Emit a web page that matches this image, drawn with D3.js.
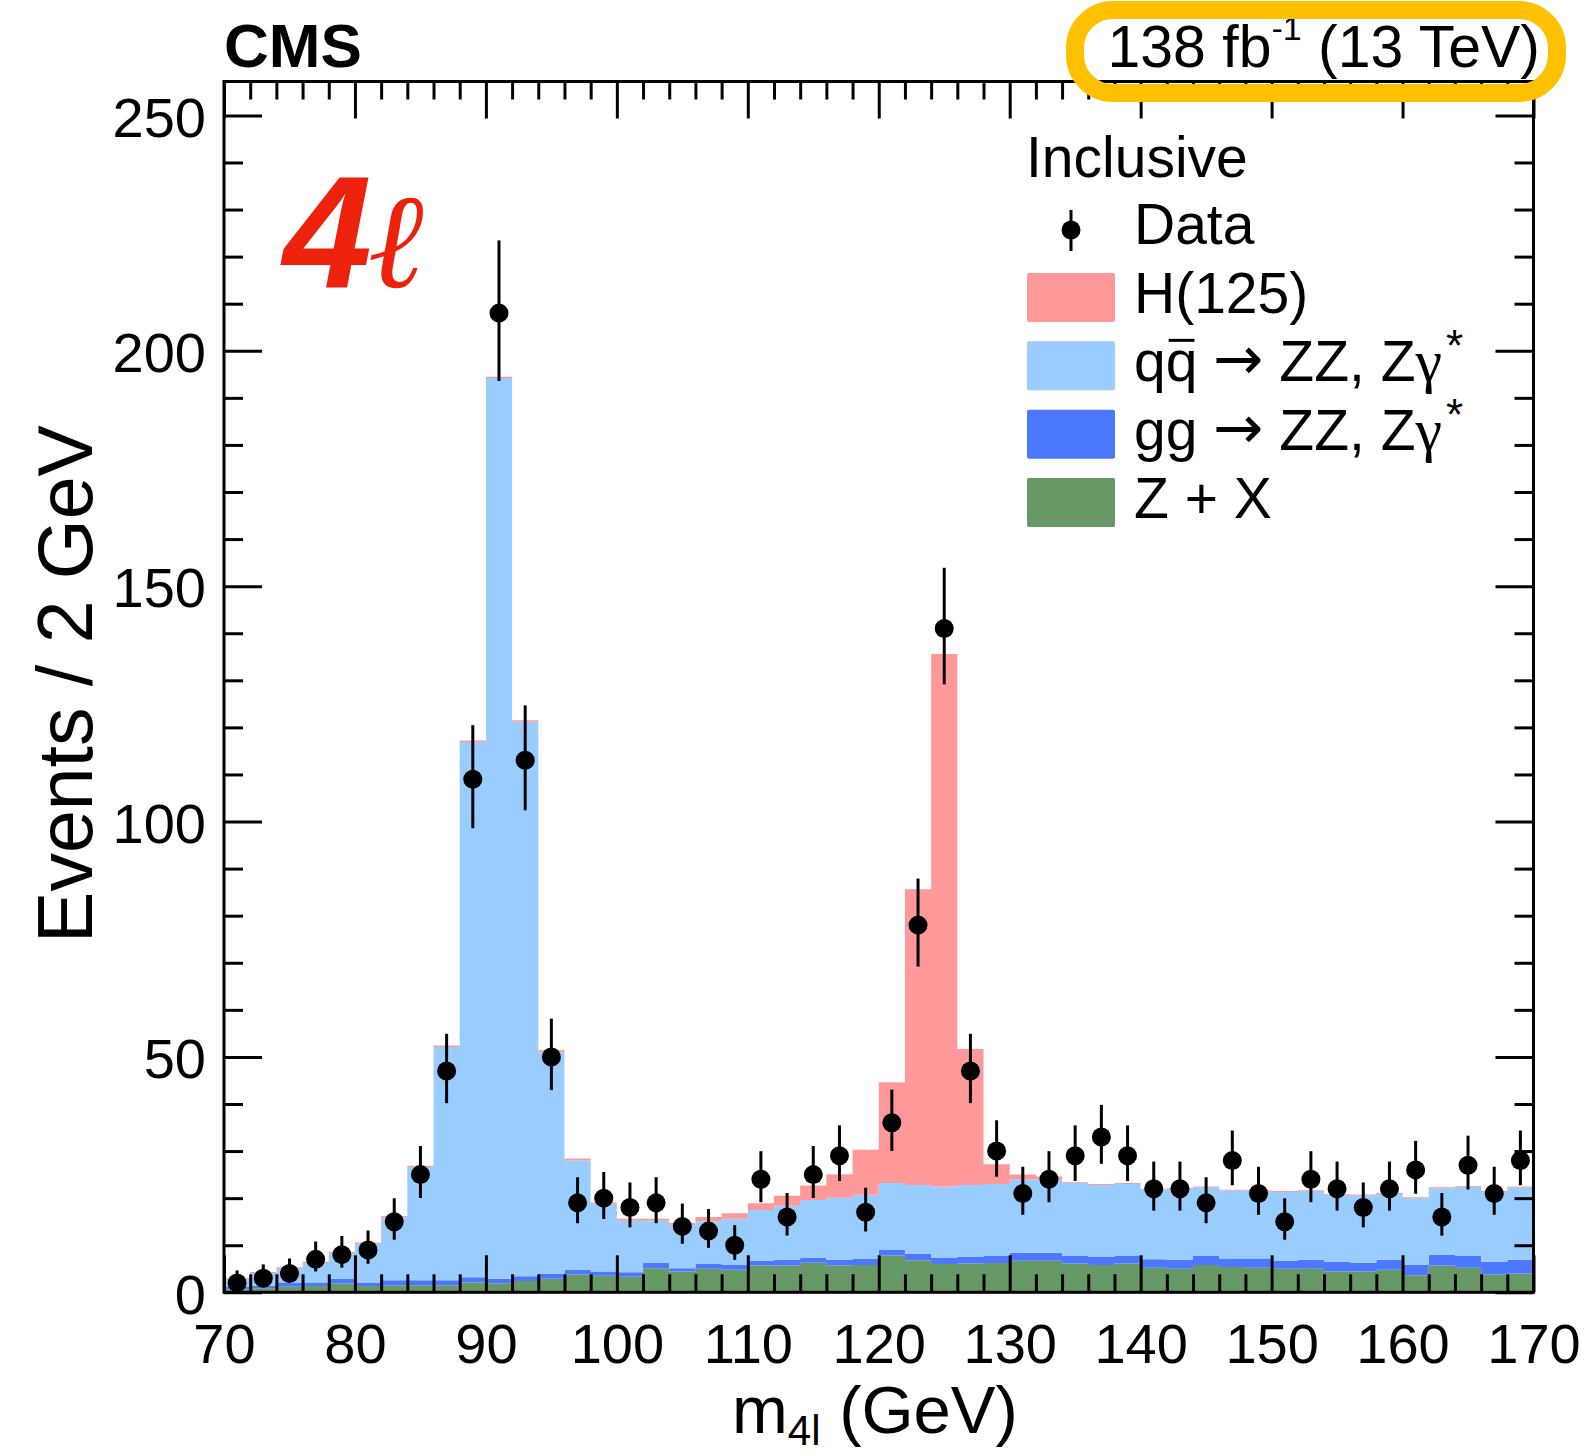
<!DOCTYPE html>
<html>
<head>
<meta charset="UTF-8">
<script src="https://d3js.org/d3.v7.min.js"></script>
<style>
  body { margin: 0; background: #fff; }
  text { font-family: "Liberation Sans", Arial, Helvetica, sans-serif; fill: #000; }
</style>
</head>
<body>
<div id="chart"></div>
<script>
// low edge of each 2 GeV bin in m4l
const massLow = [70,72,74,76,78,80,82,84,86,88,90,92,94,96,98,100,102,104,106,108,
                 110,112,114,116,118,120,122,124,126,128,130,132,134,136,138,140,142,144,146,148,
                 150,152,154,156,158,160,162,164,166,168];
const binWidth = 2;

// observed events per bin
const dataCounts = [2,3,4,7,8,9,15,25,47,109,208,113,50,19,20,18,19,14,13,10,
                    24,16,25,29,17,36,78,141,47,30,21,24,29,33,29,22,22,19,28,21,
                    15,24,22,18,22,26,16,27,21,28];

// expected events per bin, by process (stacked bottom to top)
const zPlusX = [0.6,0.85,1.2,1.35,1.85,1.35,1.5,1.5,1.5,2.1,1.9,2.4,2.9,3.8,3.5,3.3,5.1,4.4,5.0,4.8,
                5.7,5.7,6.3,5.7,5.8,7.8,6.8,6.0,6.1,6.2,6.7,6.7,6.1,5.8,6.1,5.2,5.0,5.8,5.4,5.2,
                5.0,5.0,4.4,4.4,4.8,3.6,5.7,5.2,3.8,4.0];
const ggZZ = [0.5,0.55,0.9,0.75,0.95,0.75,1.05,1.05,1.05,1.1,1.0,1.0,1.0,0.95,0.9,0.95,1.1,0.7,1.0,1.0,
              1.0,1.2,1.0,1.2,1.3,1.2,1.4,1.3,1.4,1.5,1.7,1.7,1.6,1.7,1.6,1.8,1.9,1.9,1.8,2.0,
              1.7,1.9,2.1,1.9,2.1,2.2,2.2,2.5,2.7,2.9];
const qqZZ = [1.7,2.7,2.9,4.1,5.5,8.2,13.35,24.05,49.55,113.7,191.3,117.8,47.1,23.25,14.4,10.95,9.0,9.1,9.1,9.8,
              10.8,11.5,12.3,13.2,13.6,14.2,14.6,15.2,15.3,15.3,15.6,15.6,15.5,15.3,15.3,14.8,15.1,14.6,14.4,14.4,
              14.6,14.6,14.2,14.3,14.0,14.2,14.2,14.7,14.8,15.4];
const higgs = [0.2,0.2,0.3,0.3,0.3,0.3,0.3,0.3,0.3,0.3,0.3,0.3,0.4,0.4,0.3,0.4,0.4,0.5,0.9,1.2,
               1.4,2.1,3.1,5.0,9.6,21.4,62.8,113.1,28.9,4.2,1.0,0.6,0.2,0.2,0.2,0.2,0.2,0.2,0.2,0.2,
               0.2,0.2,0.2,0.2,0.2,0.2,0.2,0.2,0.2,0.2];

const xTickLabels = [70,80,90,100,110,120,130,140,150,160,170];
const yTickLabels = [0,50,100,150,200,250];

const processes = [
  {key: "zx", label: "Z + X", color: "#669966"},
  {key: "gg", label: "gg", color: "#4b78ff"},
  {key: "qq", label: "qq", color: "#99ccff"},
  {key: "h",  label: "H(125)", color: "#ff9999"}
];

const W = 1588, H = 1456;
const pLeft = 224, pRight = 1533.5, pTop = 81.5, pBottom = 1292.3;

const x = d3.scaleLinear().domain([70, 170]).range([pLeft, pRight]);
const y = d3.scaleLinear().domain([0, 257.2]).range([pBottom, pTop]);

const table = massLow.map((lo, i) => ({lo, zx: zPlusX[i], gg: ggZZ[i], qq: qqZZ[i], h: higgs[i]}));
const series = d3.stack().keys(processes.map(p => p.key))(table);

const svg = d3.select("#chart").append("svg")
  .attr("width", W).attr("height", H)
  .style("background", "#fff");

svg.append("defs").append("clipPath").attr("id", "plotclip")
  .append("rect").attr("x", pLeft).attr("y", pTop).attr("width", pRight - pLeft).attr("height", pBottom - pTop);

// stacked histograms as step areas
const area = d3.area()
  .curve(d3.curveStepAfter)
  .x(d => x(d.x))
  .y0(d => y(d.y0))
  .y1(d => y(d.y1));

const colorOf = k => processes.find(p => p.key === k).color;

svg.append("g").attr("clip-path", "url(#plotclip)")
  .selectAll("path")
  .data(series)
  .join("path")
  .attr("fill", s => colorOf(s.key))
  .attr("d", s => {
    const pts = s.map((d, i) => ({x: massLow[i], y0: d[0], y1: d[1]}));
    const last = pts[pts.length - 1];
    pts.push({x: last.x + binWidth, y0: last.y0, y1: last.y1});
    return area(pts);
  });

// data points with Poisson (Gehrels) intervals
function errUp(n) { return Math.sqrt(n + 0.75) + 1; }
function errLow(n) { return n - n * Math.pow(1 - 1 / (9 * n) - 1 / (3 * Math.sqrt(n)), 3); }

const pts = svg.append("g");
pts.selectAll("line")
  .data(dataCounts)
  .join("line")
  .attr("x1", (n, i) => x(massLow[i] + binWidth / 2))
  .attr("x2", (n, i) => x(massLow[i] + binWidth / 2))
  .attr("y1", n => y(n + errUp(n)))
  .attr("y2", n => y(Math.max(0, n - errLow(n))))
  .attr("stroke", "#000").attr("stroke-width", 3);
pts.selectAll("circle")
  .data(dataCounts)
  .join("circle")
  .attr("cx", (n, i) => x(massLow[i] + binWidth / 2))
  .attr("cy", n => y(n))
  .attr("r", 9.5)
  .attr("fill", "#000");

// axes: ticks inside the frame on all four sides
const xMinor = d3.range(72, 170, 2).filter(v => v % 10 !== 0);
const yMinor = d3.range(10, 257, 10).filter(v => v % 50 !== 0);

function styleAxis(g) {
  g.select(".domain").remove();
  g.selectAll(".tick line").attr("stroke", "#000").attr("stroke-width", 3);
  g.selectAll(".tick text").attr("font-size", 56).attr("fill", "#000")
    .attr("font-family", "Liberation Sans, Arial, sans-serif");
}

svg.append("g").attr("transform", `translate(0,${pBottom})`)
  .call(d3.axisBottom(x).tickValues(xTickLabels).tickSizeInner(-37).tickSizeOuter(0).tickPadding(31))
  .call(styleAxis);
svg.append("g").attr("transform", `translate(0,${pBottom})`)
  .call(d3.axisBottom(x).tickValues(xMinor).tickFormat("").tickSizeInner(-18).tickSizeOuter(0))
  .call(styleAxis);
svg.append("g").attr("transform", `translate(0,${pTop})`)
  .call(d3.axisTop(x).tickValues(xTickLabels).tickFormat("").tickSizeInner(-37).tickSizeOuter(0))
  .call(styleAxis);
svg.append("g").attr("transform", `translate(0,${pTop})`)
  .call(d3.axisTop(x).tickValues(xMinor).tickFormat("").tickSizeInner(-18).tickSizeOuter(0))
  .call(styleAxis);

svg.append("g").attr("transform", `translate(${pLeft},0)`)
  .call(d3.axisLeft(y).tickValues(yTickLabels).tickSizeInner(-38).tickSizeOuter(0).tickPadding(18))
  .call(styleAxis)
  .call(g => g.selectAll(".tick text").attr("dy", "0.37em"));
svg.append("g").attr("transform", `translate(${pLeft},0)`)
  .call(d3.axisLeft(y).tickValues(yMinor).tickFormat("").tickSizeInner(-19).tickSizeOuter(0))
  .call(styleAxis);
svg.append("g").attr("transform", `translate(${pRight},0)`)
  .call(d3.axisRight(y).tickValues(yTickLabels).tickFormat("").tickSizeInner(-38).tickSizeOuter(0))
  .call(styleAxis);
svg.append("g").attr("transform", `translate(${pRight},0)`)
  .call(d3.axisRight(y).tickValues(yMinor).tickFormat("").tickSizeInner(-19).tickSizeOuter(0))
  .call(styleAxis);

svg.append("rect")
  .attr("x", pLeft).attr("y", pTop).attr("width", pRight - pLeft).attr("height", pBottom - pTop)
  .attr("fill", "none").attr("stroke", "#000").attr("stroke-width", 3);

// axis titles
const xt = svg.append("text").attr("x", 732).attr("y", 1433).attr("font-size", 67);
xt.append("tspan").text("m");
xt.append("tspan").attr("dy", 12).attr("font-size", 42).text("4l");
xt.append("tspan").attr("dy", -12).text(" (GeV)");

svg.append("text")
  .attr("transform", "translate(92,684) rotate(-90)")
  .attr("text-anchor", "middle")
  .attr("font-size", 77)
  .text("Events / 2 GeV");

// header
svg.append("text").attr("x", 224).attr("y", 66.5)
  .attr("font-size", 62).attr("font-weight", "bold").text("CMS");

const lumi = svg.append("text").attr("x", 1540).attr("y", 67)
  .attr("text-anchor", "end").attr("font-size", 59);
lumi.append("tspan").text("138 fb");
lumi.append("tspan").attr("dy", -27).attr("font-size", 34).text("-1");
lumi.append("tspan").attr("dy", 27).text(" (13 TeV)");

// channel label
svg.append("text").attr("x", 283).attr("y", 287)
  .attr("font-size", 160).attr("font-weight", "bold").attr("font-style", "italic")
  .style("fill", "#ed220d").text("4");
svg.append("text").attr("x", 368).attr("y", 287)
  .attr("font-size", 134).attr("font-style", "italic")
  .style("font-family", "'Liberation Serif', 'DejaVu Serif', serif")
  .style("fill", "#ed220d").text("\u2113");

// legend
const lg = svg.append("g");
lg.append("text").attr("x", 1026).attr("y", 177).attr("font-size", 57).text("Inclusive");

lg.append("line").attr("x1", 1071).attr("x2", 1071).attr("y1", 210).attr("y2", 251)
  .attr("stroke", "#000").attr("stroke-width", 3);
lg.append("circle").attr("cx", 1071).attr("cy", 230).attr("r", 9.5).attr("fill", "#000");
lg.append("text").attr("x", 1134).attr("y", 244).attr("font-size", 57).text("Data");

const legendRows = [processes[3], processes[2], processes[1], processes[0]];
const rowY = d3.scaleLinear().domain([0, 3]).range([273, 478]);

legendRows.forEach((p, i) => {
  lg.append("rect").attr("x", 1027).attr("y", rowY(i)).attr("width", 88).attr("height", 49)
    .attr("rx", 2).attr("fill", p.color);
  const t = lg.append("text").attr("x", 1134).attr("y", rowY(i) + 40).attr("font-size", 57);
  t.append("tspan").text(p.label);
  if (p.key === "qq" || p.key === "gg") {
    t.append("tspan").text(" ");
    t.append("tspan").style("font-family", "'DejaVu Sans', sans-serif")
      .attr("font-size", 60).attr("dy", -2).text("\u2192");
    t.append("tspan").attr("dy", 2).text(" ZZ, Z");
    t.append("tspan").style("font-family", "'Liberation Serif', 'DejaVu Serif', serif")
      .attr("font-size", 60).text("\u03b3");
    t.append("tspan").attr("dy", -20).attr("font-size", 44).attr("dx", 4).text("*");
  }
  if (p.key === "qq") {
    // bar over the second q
    const ext = t.node().getExtentOfChar(1);
    lg.append("line")
      .attr("x1", ext.x + 3).attr("x2", ext.x + ext.width - 3)
      .attr("y1", rowY(i) - 1).attr("y2", rowY(i) - 1)
      .attr("stroke", "#000").attr("stroke-width", 3);
  }
});

// luminosity highlight
svg.append("rect")
  .attr("x", 1075).attr("y", 10).attr("width", 482).attr("height", 83)
  .attr("rx", 38).attr("ry", 38)
  .attr("fill", "none").attr("stroke", "#ffc000").attr("stroke-width", 18);
</script>
</body>
</html>
